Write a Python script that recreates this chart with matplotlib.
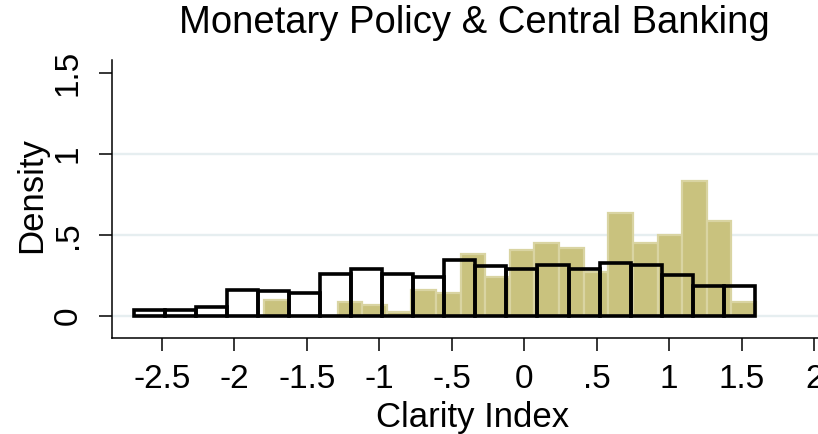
import numpy as np
import matplotlib
matplotlib.use("Agg")
import matplotlib.pyplot as plt

plt.rcParams['font.family'] = ['Liberation Sans', 'DejaVu Sans']

# Filled (tan) histogram: 20 bins
tan_start = -1.796
tan_width = 0.1697
tan_heights = [0.099, 0.0, 0.0, 0.086, 0.066, 0.025, 0.160, 0.144, 0.381, 0.239,
               0.410, 0.449, 0.418, 0.274, 0.634, 0.449, 0.498, 0.831, 0.585, 0.088]

# Outlined histogram: 20 bins
out_start = -2.692
out_width = 0.2141
out_heights = [0.035, 0.035, 0.058, 0.162, 0.152, 0.142, 0.262, 0.288, 0.262, 0.241,
               0.348, 0.306, 0.292, 0.317, 0.290, 0.325, 0.312, 0.255, 0.187, 0.187]

xticks = [-2.5, -2, -1.5, -1, -0.5, 0, 0.5, 1, 1.5, 2]
xticklabels = ["-2.5", "-2", "-1.5", "-1", "-.5", "0", ".5", "1", "1.5", "2"]
yticks = [0, 0.5, 1, 1.5]
yticklabels = ["0", ".5", "1", "1.5"]
grid_levels = [0, 0.5, 1]

title = "Monetary Policy & Central Banking"
xlabel = "Clarity Index"
ylabel = "Density"

W, H = 818, 434
fig = plt.figure(figsize=(W / 100, H / 100), dpi=100)
ax = fig.add_axes([112 / W, 1 - 338 / H, (818 - 112) / W, (338 - 60) / H])

for g in grid_levels:
    ax.axhline(g, color='#E6EEF0', lw=1.7, zorder=0)

tan_left = tan_start + tan_width * np.arange(len(tan_heights))
ax.bar(tan_left, tan_heights, width=tan_width, align='edge',
       color='#C9C27E', edgecolor='#D9D4A2', linewidth=1.6, zorder=2)

out_left = out_start + out_width * np.arange(len(out_heights))
ax.bar(out_left, out_heights, width=out_width, align='edge',
       fill=False, edgecolor='black', linewidth=2.6, zorder=3)

ax.set_xlim(-2.843, 2.026)
ax.set_ylim(-0.136, 1.58)

for s in ['top', 'right']:
    ax.spines[s].set_visible(False)
for s in ['left', 'bottom']:
    ax.spines[s].set_linewidth(1.1)

ax.set_xticks(xticks)
ax.set_xticklabels(xticklabels)
ax.set_yticks(yticks)
ax.set_yticklabels(yticklabels, rotation=90, va='center')
ax.tick_params(axis='both', direction='out', length=9.5, width=1.1,
               labelsize=24, pad=9)
ax.tick_params(axis='y', pad=11)

fig.text(474 / W, 1 - 33 / H, title, fontsize=27.5, ha='center', va='baseline')
fig.text(473 / W, 1 - 427 / H, xlabel, fontsize=25, ha='center', va='baseline')
fig.text(32 / W, 1 - 195 / H, ylabel, fontsize=25, ha='center', va='center',
         rotation=90)

fig.savefig("out.png", dpi=100)
